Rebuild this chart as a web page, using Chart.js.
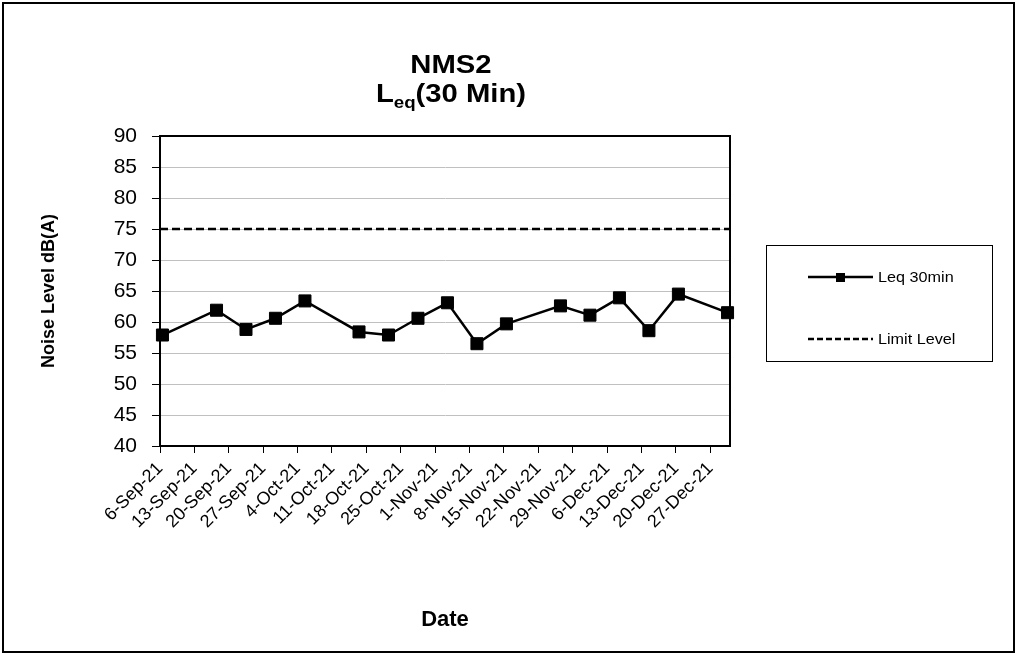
<!DOCTYPE html>
<html>
<head>
<meta charset="utf-8">
<script src="https://cdn.jsdelivr.net/npm/chart.js@4/dist/chart.umd.min.js"></script>
<style>
  html, body { margin: 0; padding: 0; background: #ffffff; }
  #wrap { width: 1017px; height: 654px; position: relative; }
</style>
</head>
<body>
<div id="wrap"><canvas id="c" width="1017" height="654"></canvas></div>
<script>
// ---- data ----
const measureDates = ['2021-09-06','2021-09-17','2021-09-23','2021-09-29','2021-10-05','2021-10-16','2021-10-22','2021-10-28','2021-11-03','2021-11-09','2021-11-15','2021-11-26','2021-12-02','2021-12-08','2021-12-14','2021-12-20','2021-12-30'];
const leqValues = [57.9, 61.9, 58.8, 60.6, 63.4, 58.4, 57.9, 60.6, 63.1, 56.5, 59.7, 62.6, 61.1, 63.9, 58.6, 64.5, 61.5];
const limitLevel = 75;
const axisStart = '2021-09-06';
const axisEnd = '2021-12-31';
const tickLabels = ['6-Sep-21','13-Sep-21','20-Sep-21','27-Sep-21','4-Oct-21','11-Oct-21','18-Oct-21','25-Oct-21','1-Nov-21','8-Nov-21','15-Nov-21','22-Nov-21','29-Nov-21','6-Dec-21','13-Dec-21','20-Dec-21','27-Dec-21'];
const yTicks = [40, 45, 50, 55, 60, 65, 70, 75, 80, 85, 90];
const seriesNames = ['Leq 30min', 'Limit Level'];

// ---- helpers ----
const DAY = 86400000;
const MONTHS = ['Jan','Feb','Mar','Apr','May','Jun','Jul','Aug','Sep','Oct','Nov','Dec'];
function isoMs(s, hour) { const p = s.split('-').map(Number); return Date.UTC(p[0], p[1]-1, p[2], hour || 0); }
const baseMs = isoMs(axisStart);
function dayOfIso(s, hour) { return (isoMs(s, hour) - baseMs) / DAY; }
function dayOfLabel(l) { const p = l.split('-'); return (Date.UTC(2000 + Number(p[2]), MONTHS.indexOf(p[1]), Number(p[0])) - baseMs) / DAY; }

const leqPoints = measureDates.map((d, i) => ({ x: dayOfIso(d, 12), y: leqValues[i] }));
const limitPoints = [{ x: dayOfIso(axisStart), y: limitLevel }, { x: dayOfIso(axisEnd), y: limitLevel }];

const FONT = "'Liberation Sans', Arial, Helvetica, sans-serif";

// ---- layout targets ----
const PLOT = { left: 160, right: 730, top: 136, bottom: 446 };
const PAD = { left: 38, right: 1017 - PLOT.right, top: PLOT.top, bottom: 21 };

function stretchedText(ctx, text, x, y, sx, align) {
  const w = ctx.measureText(text).width * sx;
  let left = x;
  if (align === 'center') left = x - w / 2;
  else if (align === 'right') left = x - w;
  ctx.save();
  ctx.translate(left, y);
  ctx.scale(sx, 1);
  ctx.textAlign = 'left';
  ctx.fillText(text, 0, 0);
  ctx.restore();
  return w;
}

const decorPlugin = {
  id: 'decor',
  afterDatasetsDraw(chart) {
    const ctx = chart.ctx, a = chart.chartArea;
    ctx.save();
    ctx.strokeStyle = '#000'; ctx.lineWidth = 2;
    ctx.strokeRect(a.left, a.top, a.right - a.left, a.bottom - a.top);
    ctx.restore();
  },
  afterDraw(chart) {
    const ctx = chart.ctx;
    ctx.save();
    // outer border
    ctx.strokeStyle = '#000'; ctx.lineWidth = 2;
    ctx.strokeRect(3, 3, 1011, 649);

    // title
    const SX = 1.17;
    ctx.fillStyle = '#000';
    ctx.textBaseline = 'alphabetic';
    const big = "bold 25px " + FONT, small = "bold 16px " + FONT;
    ctx.font = big;
    stretchedText(ctx, 'NMS2', 451, 73, SX, 'center');
    const wL = ctx.measureText('L').width * SX, wR = ctx.measureText('(30 Min)').width * SX;
    ctx.font = small; const wS = ctx.measureText('eq').width * SX;
    let x = 451 - (wL + wS + wR) / 2;
    ctx.font = big; stretchedText(ctx, 'L', x, 102, SX, 'left'); x += wL;
    ctx.font = small; stretchedText(ctx, 'eq', x, 108, SX, 'left'); x += wS;
    ctx.font = big; stretchedText(ctx, '(30 Min)', x, 102, SX, 'left');

    // legend box
    ctx.lineWidth = 1; ctx.strokeStyle = '#000';
    ctx.strokeRect(766.5, 245.5, 226, 116);
    const ds = chart.data.datasets;
    ctx.lineWidth = 2.5; ctx.setLineDash([]);
    ctx.beginPath(); ctx.moveTo(808, 277); ctx.lineTo(873, 277); ctx.stroke();
    ctx.fillRect(836, 273, 9, 9);
    ctx.setLineDash([6, 3]);
    ctx.beginPath(); ctx.moveTo(808, 339); ctx.lineTo(873, 339); ctx.stroke();
    ctx.setLineDash([]);
    ctx.font = "15px " + FONT; ctx.textBaseline = 'middle';
    stretchedText(ctx, ds[0].label, 878, 278, 1.08, 'left');
    stretchedText(ctx, ds[1].label, 878, 340, 1.08, 'left');
    ctx.restore();
  }
};

new Chart(document.getElementById('c'), {
  type: 'scatter',
  data: {
    datasets: [
      {
        label: seriesNames[0],
        data: leqPoints,
        showLine: true,
        borderColor: '#000',
        backgroundColor: '#000',
        borderWidth: 2.5,
        pointStyle: 'rect',
        pointRadius: 8.5,
        pointBorderWidth: 1,
        pointHoverRadius: 8.5,
        clip: false,
        order: 1
      },
      {
        label: seriesNames[1],
        data: limitPoints,
        showLine: true,
        borderColor: '#000',
        borderWidth: 2.5,
        borderDash: [8, 4],
        pointRadius: 0,
        order: 2
      }
    ]
  },
  options: {
    responsive: false,
    animation: false,
    devicePixelRatio: 1,
    layout: { padding: PAD },
    plugins: { legend: { display: false }, title: { display: false }, tooltip: { enabled: false } },
    scales: {
      x: {
        type: 'linear',
        min: dayOfIso(axisStart),
        max: dayOfIso(axisEnd),
        afterBuildTicks(scale) { scale.ticks = tickLabels.map(l => ({ value: dayOfLabel(l) })); },
        afterFit(scale) { scale.height = 654 - PAD.bottom - PLOT.bottom; },
        ticks: {
          callback: (v, i) => tickLabels[i],
          autoSkip: false,
          minRotation: 45,
          maxRotation: 45,
          color: '#000',
          padding: 5,
          font: { family: FONT, size: 18 }
        },
        grid: { drawOnChartArea: false, drawTicks: true, tickLength: 7, tickColor: '#000', tickWidth: 1 },
        border: { display: true, color: '#000', width: 2 },
        title: { display: true, text: 'Date', color: '#000', padding: 0, font: { family: FONT, size: 22, weight: 'bold' } }
      },
      y: {
        min: 40,
        max: 90,
        afterBuildTicks(scale) { scale.ticks = yTicks.map(v => ({ value: v })); },
        afterFit(scale) { scale.width = PLOT.left - PAD.left; },
        ticks: {
          color: '#000',
          padding: 15,
          font: { family: FONT, size: 21 }
        },
        grid: { color: '#c0c0c0', lineWidth: 1, tickColor: '#000', tickLength: 8, drawTicks: true },
        border: { display: true, color: '#000', width: 2 },
        title: { display: true, text: 'Noise Level dB(A)', color: '#000', padding: 0, font: { family: FONT, size: 18, weight: 'bold' } }
      }
    }
  },
  plugins: [decorPlugin]
});
</script>
</body>
</html>
